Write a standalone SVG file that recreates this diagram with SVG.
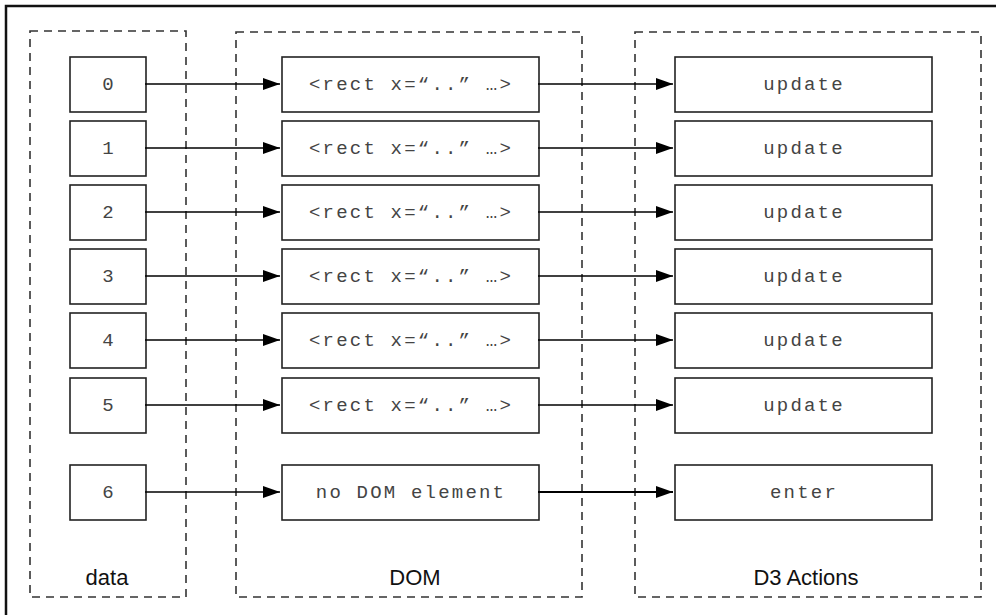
<svg xmlns="http://www.w3.org/2000/svg" width="996" height="615" viewBox="0 0 996 615">
<defs>
<marker id="ah" markerWidth="17" markerHeight="13" refX="17" refY="6.5" orient="auto" markerUnits="userSpaceOnUse">
<path d="M0,0.5 L17,6.5 L0,12.5 Z" fill="#000"/>
</marker>
<style>
.frame{fill:none;stroke:#111;stroke-width:2.5}
.group{fill:none;stroke:#333;stroke-width:1.6;stroke-dasharray:8,6}
.node rect{fill:#fff;stroke:#222;stroke-width:1.6}
.node text{font-family:"Liberation Mono","Courier New",monospace;font-size:19px;letter-spacing:2.2px;fill:#444;text-anchor:middle;dominant-baseline:central}
.lbl{font-family:"Liberation Sans",Arial,sans-serif;font-size:22px;fill:#111;text-anchor:middle}
.conn line{stroke:#000;stroke-width:1.6;marker-end:url(#ah)}
</style>
</defs>
<rect width="996" height="615" fill="#fff"/>
<path class="frame" d="M6,620 V6 H1000"/>
<g id="groups">
<rect class="group" x="30" y="31" width="156" height="566"/>
<rect class="group" x="236" y="32" width="346" height="565"/>
<rect class="group" x="635" y="32" width="346" height="565"/>
<text class="lbl" x="107" y="585">data</text>
<text class="lbl" x="415" y="585">DOM</text>
<text class="lbl" x="806" y="585">D3 Actions</text>
</g>
<g id="data-nodes">
<g id="d0" class="node"><rect x="70" y="57" width="76" height="55"/><text x="109" y="85">0</text></g>
<g id="d1" class="node"><rect x="70" y="121" width="76" height="55"/><text x="109" y="149">1</text></g>
<g id="d2" class="node"><rect x="70" y="185" width="76" height="55"/><text x="109" y="213">2</text></g>
<g id="d3" class="node"><rect x="70" y="249" width="76" height="55"/><text x="109" y="277">3</text></g>
<g id="d4" class="node"><rect x="70" y="313" width="76" height="55"/><text x="109" y="341">4</text></g>
<g id="d5" class="node"><rect x="70" y="378" width="76" height="55"/><text x="109" y="406">5</text></g>
<g id="d6" class="node"><rect x="70" y="465" width="76" height="55"/><text x="109" y="493">6</text></g>
</g>
<g id="dom-nodes">
<g id="m0" class="node"><rect x="282" y="57" width="257" height="55"/><text x="411" y="85">&lt;rect x=“..” …&gt;</text></g>
<g id="m1" class="node"><rect x="282" y="121" width="257" height="55"/><text x="411" y="149">&lt;rect x=“..” …&gt;</text></g>
<g id="m2" class="node"><rect x="282" y="185" width="257" height="55"/><text x="411" y="213">&lt;rect x=“..” …&gt;</text></g>
<g id="m3" class="node"><rect x="282" y="249" width="257" height="55"/><text x="411" y="277">&lt;rect x=“..” …&gt;</text></g>
<g id="m4" class="node"><rect x="282" y="313" width="257" height="55"/><text x="411" y="341">&lt;rect x=“..” …&gt;</text></g>
<g id="m5" class="node"><rect x="282" y="378" width="257" height="55"/><text x="411" y="406">&lt;rect x=“..” …&gt;</text></g>
<g id="m6" class="node"><rect x="282" y="465" width="257" height="55"/><text x="411" y="493">no DOM element</text></g>
</g>
<g id="action-nodes">
<g id="a0" class="node"><rect x="675" y="57" width="257" height="55"/><text x="804" y="85">update</text></g>
<g id="a1" class="node"><rect x="675" y="121" width="257" height="55"/><text x="804" y="149">update</text></g>
<g id="a2" class="node"><rect x="675" y="185" width="257" height="55"/><text x="804" y="213">update</text></g>
<g id="a3" class="node"><rect x="675" y="249" width="257" height="55"/><text x="804" y="277">update</text></g>
<g id="a4" class="node"><rect x="675" y="313" width="257" height="55"/><text x="804" y="341">update</text></g>
<g id="a5" class="node"><rect x="675" y="378" width="257" height="55"/><text x="804" y="406">update</text></g>
<g id="a6" class="node"><rect x="675" y="465" width="257" height="55"/><text x="804" y="493">enter</text></g>
</g>
<g id="connectors" class="conn">
<line x1="145" y1="84" x2="280" y2="84"/>
<line x1="145" y1="148" x2="280" y2="148"/>
<line x1="145" y1="212" x2="280" y2="212"/>
<line x1="145" y1="276" x2="280" y2="276"/>
<line x1="145" y1="340" x2="280" y2="340"/>
<line x1="145" y1="405" x2="280" y2="405"/>
<line x1="145" y1="492" x2="280" y2="492"/>
<line x1="538" y1="84" x2="673" y2="84"/>
<line x1="538" y1="148" x2="673" y2="148"/>
<line x1="538" y1="212" x2="673" y2="212"/>
<line x1="538" y1="276" x2="673" y2="276"/>
<line x1="538" y1="340" x2="673" y2="340"/>
<line x1="538" y1="405" x2="673" y2="405"/>
<line x1="538" y1="492" x2="673" y2="492" style="stroke-width:2.2"/>
</g>
</svg>
